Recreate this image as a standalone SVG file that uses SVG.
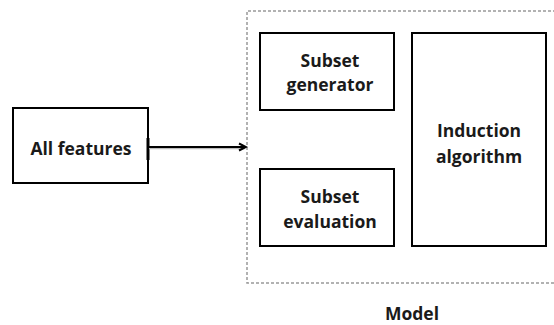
<svg xmlns="http://www.w3.org/2000/svg" width="554" height="325" viewBox="0 0 554 325">
<style>
.box{fill:#fff;stroke:#000;stroke-width:2}
.lbl{font-family:"Open Sans","DejaVu Sans",sans-serif;font-weight:bold;font-size:17.5px;fill:#1a1a1a;text-anchor:middle}
.frame{fill:none;stroke:#999;stroke-width:1.5;stroke-dasharray:3 2}
</style>
<defs>
<marker id="arr" markerWidth="10" markerHeight="10" refX="8" refY="5" orient="auto" markerUnits="userSpaceOnUse">
<path d="M1,1.5 L8,5 L1,8.5" fill="none" stroke="#000" stroke-width="2"/>
</marker>
</defs>
<rect width="554" height="325" fill="#fff"/>
<g id="model">
<path class="frame" d="M556,11 H247 V283 H556"/>
<text class="lbl" x="412" y="320">Model</text>
</g>
<g id="all-features">
<rect class="box" x="13" y="108" width="135" height="75"/>
<text class="lbl" x="81" y="155">All features</text>
</g>
<g id="subset-generator">
<rect class="box" x="260" y="33" width="134" height="77"/>
<text class="lbl" x="330" y="67">Subset</text>
<text class="lbl" x="330" y="91">generator</text>
</g>
<g id="subset-evaluation">
<rect class="box" x="260" y="169" width="134" height="77"/>
<text class="lbl" x="330" y="203">Subset</text>
<text class="lbl" x="330" y="228">evaluation</text>
</g>
<g id="induction-algorithm">
<rect class="box" x="412" y="33" width="134" height="213"/>
<text class="lbl" x="479" y="137">Induction</text>
<text class="lbl" x="479" y="163">algorithm</text>
</g>
<g id="connectors">
<line x1="148" y1="138" x2="148" y2="160" stroke="#000" stroke-width="3"/>
<line x1="149" y1="148.5" x2="245" y2="148.5" stroke="#bbb" stroke-width="1.5"/>
<line x1="149" y1="147" x2="246" y2="147" stroke="#000" stroke-width="2" marker-end="url(#arr)"/>
</g>
</svg>
